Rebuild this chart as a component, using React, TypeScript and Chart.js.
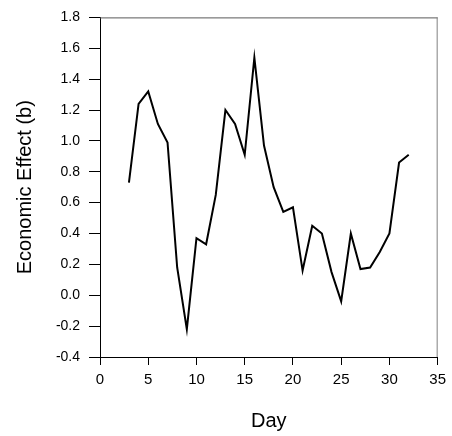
import React, { useEffect, useRef } from "react";
import { Chart, registerables } from "chart.js";

Chart.register(...registerables);

// Daily economic effect, days 3–32
const days: number[] = [
  3, 4, 5, 6, 7, 8, 9, 10, 11, 12, 13, 14, 15, 16, 17,
  18, 19, 20, 21, 22, 23, 24, 25, 26, 27, 28, 29, 30, 31, 32,
];
const effect: number[] = [
  0.73, 1.24, 1.32, 1.11, 0.99, 0.18, -0.22, 0.37, 0.33, 0.65, 1.2, 1.11, 0.91, 1.54, 0.97,
  0.7, 0.54, 0.57, 0.16, 0.45, 0.4, 0.15, -0.04, 0.4, 0.17, 0.18, 0.28, 0.4, 0.86, 0.91,
];

const xTitle = "Day";
const yTitle = "Economic Effect (b)";
const xRange = { min: 0, max: 35, step: 5 };
const yRange = { min: -0.4, max: 1.8, step: 0.2 };

const FONT = "'Liberation Sans', Arial, Helvetica, sans-serif";

// Draws the grey top and right edges of the plot frame
const frameEdges = {
  id: "frameEdges",
  afterDraw(chart: Chart) {
    const { ctx, chartArea } = chart;
    ctx.save();
    ctx.lineWidth = 1;
    ctx.strokeStyle = "#5a5a5a";
    ctx.beginPath();
    ctx.moveTo(chartArea.left, chartArea.top + 0.5);
    ctx.lineTo(chartArea.right, chartArea.top + 0.5);
    ctx.stroke();
    ctx.strokeStyle = "#808080";
    ctx.beginPath();
    ctx.moveTo(chartArea.right - 0.5, chartArea.top);
    ctx.lineTo(chartArea.right - 0.5, chartArea.bottom);
    ctx.stroke();
    ctx.restore();
  },
};

export default function App() {
  const canvasRef = useRef<HTMLCanvasElement | null>(null);

  useEffect(() => {
    if (!canvasRef.current) return;
    const chart = new Chart(canvasRef.current, {
      type: "line",
      data: {
        datasets: [
          {
            data: days.map((d, i) => ({ x: d, y: effect[i] })),
            borderColor: "#000000",
            borderWidth: 2,
            pointRadius: 0,
            tension: 0,
            fill: false,
          },
        ],
      },
      options: {
        animation: false,
        responsive: false,
        maintainAspectRatio: false,
        layout: { padding: { left: 0, top: 17, right: 13, bottom: 0 } },
        plugins: {
          legend: { display: false },
          tooltip: { enabled: false },
        },
        scales: {
          x: {
            type: "linear",
            min: xRange.min,
            max: xRange.max,
            afterFit: (scale: any) => {
              scale.height = 79;
            },
            ticks: {
              stepSize: xRange.step,
              color: "#000000",
              padding: 6,
              maxRotation: 0,
              font: { family: FONT, size: 15 },
            },
            grid: {
              drawOnChartArea: false,
              drawTicks: true,
              tickLength: 8,
              tickColor: "#000000",
              tickWidth: 1,
            },
            border: { display: true, color: "#000000", width: 1 },
            title: {
              display: true,
              text: xTitle,
              color: "#000000",
              font: { family: FONT, size: 20 },
              padding: { top: 0, bottom: 3 },
            },
          },
          y: {
            type: "linear",
            min: yRange.min,
            max: yRange.max,
            afterFit: (scale: any) => {
              scale.width = 100;
            },
            ticks: {
              stepSize: yRange.step,
              color: "#000000",
              padding: 9,
              font: { family: FONT, size: 14 },
              callback: (v: any) => Number(v).toFixed(1),
            },
            grid: {
              drawOnChartArea: false,
              drawTicks: true,
              tickLength: 11,
              tickColor: "#000000",
              tickWidth: 1,
            },
            border: { display: true, color: "#000000", width: 1 },
            title: {
              display: true,
              text: yTitle,
              color: "#000000",
              font: { family: FONT, size: 20 },
              padding: { top: 13, bottom: 0 },
            },
          },
        },
      },
      plugins: [frameEdges],
    });
    return () => chart.destroy();
  }, []);

  return (
    <div
      style={{
        position: "fixed",
        left: 0,
        top: 0,
        width: 452,
        height: 436,
        background: "#ffffff",
      }}
    >
      <canvas ref={canvasRef} width={452} height={436} style={{ display: "block" }} />
    </div>
  );
}
